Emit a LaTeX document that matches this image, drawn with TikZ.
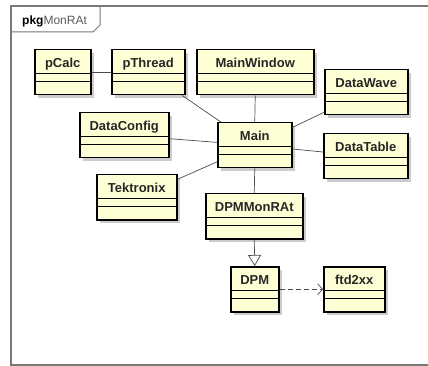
\documentclass[tikz,border=0pt]{standalone}
\usepackage{fontspec}
\setmainfont{Liberation Sans}
\usepackage{tikz}
\usetikzlibrary{arrows.meta, shadows}
\definecolor{classfill}{RGB}{255,255,214}
\definecolor{framegray}{RGB}{120,120,120}

\tikzset{
  umlclass/.style={draw, line width=1.5pt, fill=classfill, anchor=north west,
    minimum height=45pt, inner xsep=0pt, inner ysep=0pt,
    text height=17.5pt, text depth=27.5pt,
    font=\bfseries\fontsize{13}{15}\selectfont, text=black!85,
    drop shadow={shadow xshift=3pt, shadow yshift=-3pt, opacity=0.2, fill=black},
    path picture={
      \draw[line width=0.8pt] ([yshift=-24pt]path picture bounding box.north west)
        -- ([yshift=-24pt]path picture bounding box.north east);
      \draw[line width=0.8pt] ([yshift=-32pt]path picture bounding box.north west)
        -- ([yshift=-32pt]path picture bounding box.north east);
    }},
  link/.style={draw=black!70, line width=0.7pt},
}

\begin{document}
\begin{tikzpicture}[x=1pt, y=-1pt]
  \useasboundingbox (0,0) rectangle (428,366);
  \draw[framegray, line width=1.2pt] (430,6) -- (11,6) -- (11,365) -- (430,365);
  \draw[framegray, line width=1pt] (11,32) -- (93,32) -- (100,25) -- (100,6);
  \node[anchor=base west, inner sep=0pt, font=\fontsize{12}{14}\selectfont] (pkg) at (22,25)
    {\textbf{pkg}\textcolor{black!65}{MonRAt}};

  \node[umlclass, minimum width=56pt]  (pCalc)      at (34,49)   {pCalc};
  \node[umlclass, minimum width=73pt]  (pThread)    at (111,49)  {pThread};
  \node[umlclass, minimum width=117pt] (MainWindow) at (196,49)  {MainWindow};
  \node[umlclass, minimum width=83pt]  (DataWave)   at (324,69)  {DataWave};
  \node[umlclass, minimum width=89pt]  (DataConfig) at (79,112)  {DataConfig};
  \node[umlclass, minimum width=74pt]  (Main)       at (217,122) {Main};
  \node[umlclass, minimum width=84pt]  (DataTable)  at (323,133) {DataTable};
  \node[umlclass, minimum width=80pt]  (Tektronix)  at (96,174)  {Tektronix};
  \node[umlclass, minimum width=97pt]  (DPMMonRAt)  at (205,193) {DPMMonRAt};
  \node[umlclass, minimum width=48pt]  (DPM)        at (230,266) {DPM};
  \node[umlclass, minimum width=61pt]  (ftd2xx)     at (323,266) {ftd2xx};

  \draw[link] (pCalc) -- (pThread);
  \draw[link] (pThread) -- (Main);
  \draw[link] (MainWindow.south) -- (Main.north);
  \draw[link] (DataWave) -- (Main);
  \draw[link] (DataTable) -- (Main);
  \draw[link] (DataConfig) -- (Main);
  \draw[link] (Tektronix) -- (Main);
  \draw[link] (Main.south) -- (DPMMonRAt.north);
  \draw[link, -{Triangle[open, length=11pt, width=13pt, fill=white]}] (DPMMonRAt.south) -- (DPM.north);
  \draw[link, dash pattern=on 5pt off 3pt, -{Straight Barb[length=5pt, width=11pt]}] (DPM) -- (ftd2xx);
\end{tikzpicture}
\end{document}
